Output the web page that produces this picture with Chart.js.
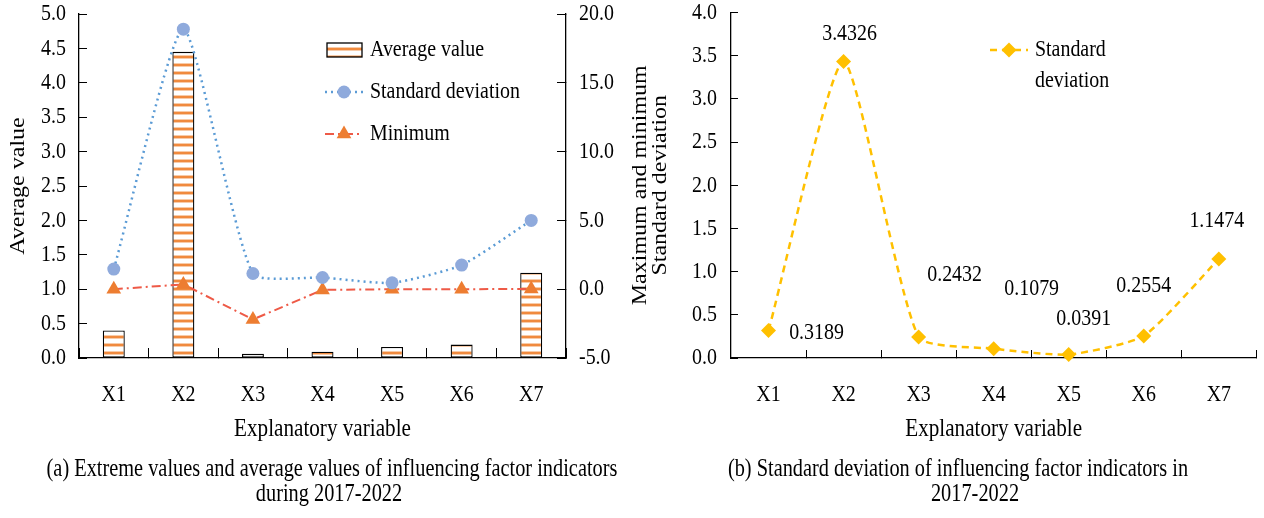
<!DOCTYPE html>
<html>
<head>
<meta charset="utf-8">
<script src="https://cdn.jsdelivr.net/npm/chart.js@4.4.0/dist/chart.umd.min.js"></script>
<style>
  html, body { margin: 0; padding: 0; background: #fff; width: 1264px; height: 518px; overflow: hidden; }
  #wrapA { position: absolute; left: 0; top: 0; width: 640px; height: 518px; }
  #wrapB { position: absolute; left: 622px; top: 0; width: 642px; height: 518px; }
  .cap { position: absolute; height: 30px; line-height: 30px; font-family: "Liberation Serif", "Times New Roman", serif;
         font-size: 24.5px; color: #000; white-space: nowrap; transform: translateX(-50%) scaleX(0.83); }
</style>
</head>
<body>
<div id="wrapA"><canvas id="chartA" width="640" height="518"></canvas></div>
<div id="wrapB"><canvas id="chartB" width="642" height="518"></canvas></div>
<div class="cap" style="left:332px; top:453px;">(a) Extreme values and average values of influencing factor indicators</div>
<div class="cap" style="left:329px; top:478px;">during 2017-2022</div>
<div class="cap" style="left:958px; top:453px;">(b) Standard deviation of influencing factor indicators in</div>
<div class="cap" style="left:975px; top:478px;">2017-2022</div>
<script>
// ---------------- data ----------------
const categories = ['X1', 'X2', 'X3', 'X4', 'X5', 'X6', 'X7'];
const averageValues = [0.40, 4.45, 0.06, 0.09, 0.16, 0.195, 1.24];
const stdDevValuesA = [1.46, 18.9, 1.14, 0.85, 0.46, 1.75, 5.0];
const minimumValues = [0.0, 0.35, -2.2, -0.05, 0.0, 0.0, 0.02];
const stdDevValuesB = [0.3189, 3.4326, 0.2432, 0.1079, 0.0391, 0.2554, 1.1474];
const averageAxisTicks = [0.0, 0.5, 1.0, 1.5, 2.0, 2.5, 3.0, 3.5, 4.0, 4.5, 5.0];
const extremeAxisTicks = [-5.0, 0.0, 5.0, 10.0, 15.0, 20.0];
const stdAxisTicks = [0.0, 0.5, 1.0, 1.5, 2.0, 2.5, 3.0, 3.5, 4.0];
const seriesNamesA = ['Average value', 'Standard deviation', 'Minimum'];
const seriesNameB = 'Standard deviation';

// ---------------- style ----------------
const FONT = '"Liberation Serif", "Times New Roman", serif';
const K = 0.83; // horizontal condensation of the original typesetting

function condenseText(ctx) {
  const orig = ctx.fillText;
  ctx.fillText = function (t, x, y) {
    const m = this.getTransform();
    const gx = m.a * x + m.c * y + m.e;
    this.save();
    this.setTransform(new DOMMatrix().translate(gx, 0).scale(K, 1).translate(-gx, 0).multiply(m));
    orig.call(this, t, x, y);
    this.restore();
  };
}

function axisRange(ticks) {
  return { min: ticks[0], max: ticks[ticks.length - 1], step: ticks[1] - ticks[0] };
}

const ctxA = document.getElementById('chartA').getContext('2d');
const ctxB = document.getElementById('chartB').getContext('2d');
condenseText(ctxA);
condenseText(ctxB);

function stripePattern(ctx) {
  const c = document.createElement('canvas');
  c.width = 4; c.height = 8;
  const g = c.getContext('2d');
  g.fillStyle = '#ffffff'; g.fillRect(0, 0, 4, 8);
  g.fillStyle = '#F8CBA8'; g.fillRect(0, 7, 4, 1); g.fillRect(0, 2, 4, 1);
  g.fillStyle = '#F08A3E'; g.fillRect(0, 0, 4, 2);
  return ctx.createPattern(c, 'repeat');
}

function fixWidth(w) {
  return s => { s.width = w; s.paddingTop = 0; s.paddingBottom = 0; };
}

const tickFont = { family: FONT, size: 24 };
const rA = axisRange(averageAxisTicks);
const rE = axisRange(extremeAxisTicks);
const rS = axisRange(stdAxisTicks);

// ---------------- legend for chart (a) ----------------
const legendA = {
  id: 'legendA',
  afterDatasetsDraw(chart) {
    const ctx = chart.ctx;
    const ds = chart.data.datasets;
    const rows = [50, 92, 134];
    ctx.save();
    ctx.fillStyle = ds[0].backgroundColor;
    ctx.fillRect(327, 43, 35, 14);
    ctx.strokeStyle = '#000'; ctx.lineWidth = 1.3;
    ctx.strokeRect(327, 43, 35, 14);
    [1, 2].forEach(i => {
      const d = ds[i], y = rows[i];
      ctx.setLineDash(d.borderDash);
      ctx.strokeStyle = d.borderColor; ctx.lineWidth = d.borderWidth;
      ctx.beginPath(); ctx.moveTo(325, y); ctx.lineTo(363, y); ctx.stroke();
      ctx.setLineDash([]);
      ctx.fillStyle = d.pointBackgroundColor;
      Chart.helpers.drawPoint(ctx, { pointStyle: d.pointStyle, radius: d.pointRadius, rotation: 0, borderWidth: 0 }, 344, y);
    });
    ctx.fillStyle = '#000';
    ctx.font = '24px ' + FONT;
    ctx.textBaseline = 'middle'; ctx.textAlign = 'left';
    ds.forEach((d, i) => ctx.fillText(d.label, 370, rows[i]));
    ctx.restore();
  }
};

// ---------------- chart (a) ----------------
new Chart(ctxA, {
  type: 'bar',
  data: {
    labels: categories,
    datasets: [
      { type: 'bar', label: seriesNamesA[0], data: averageValues, yAxisID: 'y',
        backgroundColor: stripePattern(ctxA), borderColor: '#000', borderWidth: 1.3, borderSkipped: false,
        barPercentage: 0.316, categoryPercentage: 1, order: 3 },
      { type: 'line', label: seriesNamesA[1], data: stdDevValuesA, yAxisID: 'y1',
        borderColor: '#5B9BD5', borderWidth: 2.5, borderDash: [2, 4], tension: 0.18,
        pointStyle: 'circle', pointRadius: 6.5, pointBackgroundColor: '#8FAADC', pointBorderWidth: 0,
        order: 1, clip: false },
      { type: 'line', label: seriesNamesA[2], data: minimumValues, yAxisID: 'y1',
        borderColor: '#EE5A47', borderWidth: 2, borderDash: [9, 4, 2, 4], tension: 0,
        pointStyle: 'triangle', pointRadius: 8.5, pointBackgroundColor: '#ED7D31', pointBorderWidth: 0,
        order: 2, clip: false }
    ]
  },
  options: {
    responsive: false, animation: false, events: [],
    layout: { padding: { top: 14, left: 0, right: 0, bottom: 0 } },
    plugins: { legend: { display: false }, tooltip: { enabled: false } },
    scales: {
      x: {
        afterFit: s => { s.height = 160; },
        grid: { display: true, drawOnChartArea: false, drawTicks: true, tickLength: -10, tickColor: '#000', offset: true },
        border: { display: true, color: '#000', width: 1.3 },
        ticks: { font: tickFont, color: '#000', padding: 32, autoSkip: false, maxRotation: 0 },
        title: { display: true, text: 'Explanatory variable', color: '#000', font: { family: FONT, size: 25.5 }, padding: { top: 0, bottom: 73 } }
      },
      y: {
        position: 'left', min: rA.min, max: rA.max,
        afterFit: fixWidth(79),
        grid: { display: true, drawOnChartArea: false, tickLength: -8, tickColor: '#000' },
        border: { display: true, color: '#000', width: 1.3 },
        ticks: { stepSize: rA.step, font: tickFont, color: '#000', padding: 21, callback: v => Number(v).toFixed(1) },
        title: { display: true, text: 'Average value', color: '#000', font: { family: FONT, size: 24 }, padding: { top: 4, bottom: 0 } }
      },
      y1: {
        position: 'right', min: rE.min, max: rE.max,
        afterFit: fixWidth(74),
        grid: { display: true, drawOnChartArea: false, tickLength: -9, tickColor: '#000' },
        border: { display: true, color: '#000', width: 1.3 },
        ticks: { stepSize: rE.step, font: tickFont, color: '#000', padding: 22, callback: v => Number(v).toFixed(1) }
      }
    }
  },
  plugins: [legendA]
});

// ---------------- chart (b) plugins ----------------
const labelOffsetsB = [[48, 2], [6, -28], [36, -62], [38, -60], [15, -36], [0, -50], [-2, -38]];
const dataLabelsB = {
  id: 'dataLabelsB',
  afterDatasetsDraw(chart) {
    const ctx = chart.ctx;
    const meta = chart.getDatasetMeta(0);
    const vals = chart.data.datasets[0].data;
    ctx.save();
    ctx.fillStyle = '#000';
    ctx.font = '24px ' + FONT;
    ctx.textAlign = 'center'; ctx.textBaseline = 'middle';
    meta.data.forEach((pt, i) => {
      ctx.fillText(vals[i].toFixed(4), pt.x + labelOffsetsB[i][0], pt.y + labelOffsetsB[i][1]);
    });
    ctx.restore();
  }
};
const legendB = {
  id: 'legendB',
  afterDatasetsDraw(chart) {
    const ctx = chart.ctx;
    const d = chart.data.datasets[0];
    const y = 50;
    ctx.save();
    ctx.setLineDash(d.borderDash);
    ctx.strokeStyle = d.borderColor; ctx.lineWidth = d.borderWidth;
    ctx.beginPath(); ctx.moveTo(368, y); ctx.lineTo(406, y); ctx.stroke();
    ctx.setLineDash([]);
    ctx.fillStyle = d.pointBackgroundColor;
    Chart.helpers.drawPoint(ctx, { pointStyle: d.pointStyle, radius: d.pointRadius, rotation: 0, borderWidth: 0 }, 387, y);
    ctx.fillStyle = '#000';
    ctx.font = '24px ' + FONT;
    ctx.textAlign = 'left'; ctx.textBaseline = 'middle';
    const words = d.label.split(' ');
    ctx.fillText(words[0], 413, 50);
    ctx.fillText(words.slice(1).join(' '), 413, 81);
    ctx.restore();
  }
};

// ---------------- chart (b) ----------------
new Chart(ctxB, {
  type: 'line',
  data: {
    labels: categories,
    datasets: [
      { label: seriesNameB, data: stdDevValuesB,
        borderColor: '#FFC000', borderWidth: 2.5, borderDash: [7, 5], tension: 0.18,
        pointStyle: 'rectRot', pointRadius: 7.5, pointBackgroundColor: '#FFC000', pointBorderWidth: 0, clip: false }
    ]
  },
  options: {
    responsive: false, animation: false, events: [],
    layout: { padding: { top: 12.5, left: 0, right: 0, bottom: 0 } },
    plugins: { legend: { display: false }, tooltip: { enabled: false } },
    scales: {
      x: {
        offset: true,
        afterFit: s => { s.height = 160; },
        grid: { display: true, drawOnChartArea: false, drawTicks: true, tickLength: -8, tickColor: '#000', offset: true },
        border: { display: true, color: '#000', width: 1.3 },
        ticks: { font: tickFont, color: '#000', padding: 30, autoSkip: false, maxRotation: 0 },
        title: { display: true, text: 'Explanatory variable', color: '#000', font: { family: FONT, size: 25.5 }, padding: { top: 0, bottom: 73 } }
      },
      y: {
        position: 'left', min: rS.min, max: rS.max,
        afterFit: fixWidth(109),
        grid: { display: true, drawOnChartArea: false, tickLength: -7, tickColor: '#000' },
        border: { display: true, color: '#000', width: 1.3 },
        ticks: { stepSize: rS.step, font: tickFont, color: '#000', padding: 21, callback: v => Number(v).toFixed(1) },
        title: { display: true, text: ['Maximum and minimum', 'Standard deviation'], color: '#000',
                 font: { family: FONT, size: 24, lineHeight: 0.833 }, padding: { top: 9, bottom: 0 } }
      }
    }
  },
  plugins: [dataLabelsB, legendB]
});
</script>
</body>
</html>
